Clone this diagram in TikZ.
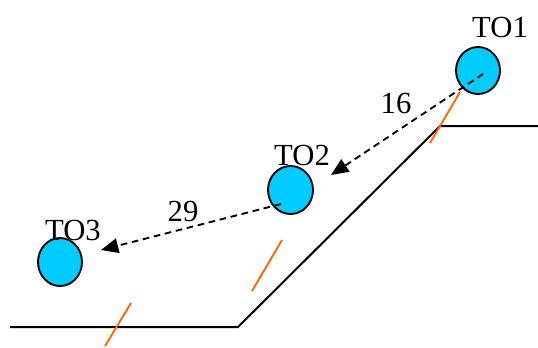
\documentclass[tikz,border=0pt]{standalone}
\usepackage{fontspec}
\setmainfont{Liberation Serif}
\usetikzlibrary{arrows.meta}
\definecolor{ballblue}{RGB}{0,204,255}
\definecolor{tickorange}{RGB}{255,102,0}
\begin{document}
\begin{tikzpicture}[x=0.75pt,y=-0.75pt,
  ball/.style={draw=black,line width=1.4pt,fill=ballblue},
  lbl/.style={font=\fontsize{23}{26}\selectfont,inner sep=0pt},
  move/.style={dash pattern=on 5pt off 3.5pt,line width=1.4pt,-{Triangle[length=13pt,width=11pt]}},
  ground/.style={line width=1.5pt},
  tick/.style={draw=tickorange,line width=1.4pt}]
\useasboundingbox (0,0) rectangle (538,347);
% ground profile
\coordinate (g1) at (10,327);
\coordinate (g2) at (238,327);
\coordinate (g3) at (440,126);
\coordinate (g4) at (538,126);
\draw[ground] (g1) -- (g2) -- (g3) -- (g4);
% balls
\filldraw[ball] (478,70.5) ellipse [x radius=22,y radius=23.5];
\filldraw[ball] (290.5,190) ellipse [x radius=22.5,y radius=24];
\filldraw[ball] (60,262) ellipse [x radius=22,y radius=24];
\node[lbl] (t1) at (500,27) {TO1};
\node[lbl] (t2) at (302,155) {TO2};
\node[lbl] (t3) at (73,230) {TO3};
% orange ticks
\coordinate (o1a) at (460,92); \coordinate (o1b) at (430,143);
\coordinate (o2a) at (282,240); \coordinate (o2b) at (252,291);
\coordinate (o3a) at (131,303); \coordinate (o3b) at (105,346);
\draw[tick] (o1a) -- (o1b);
\draw[tick] (o2a) -- (o2b);
\draw[tick] (o3a) -- (o3b);
% movements
\coordinate (s1) at (483,74);
\coordinate (e1) at (331,175);
\coordinate (s2) at (281,204);
\coordinate (e2) at (101,250);
\draw[move] (s1) -- (e1);
\draw[move] (s2) -- (e2);
\node[lbl] (n16) at (396,103) {16};
\node[lbl] (n29) at (183,211) {29};
\end{tikzpicture}
\end{document}
